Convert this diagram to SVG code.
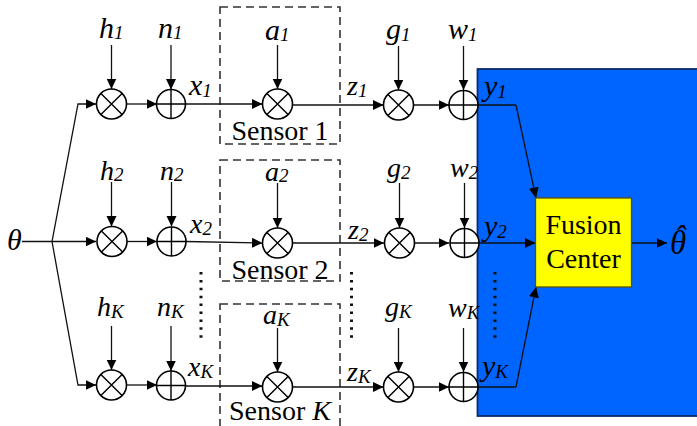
<svg xmlns="http://www.w3.org/2000/svg" width="697" height="426" viewBox="0 0 697 426" font-family="'Liberation Serif','Times New Roman',serif">
<style>
text{font-family:'Liberation Serif','Times New Roman',serif;fill:#000}
.v{font-style:italic;font-size:30px}
.r2{font-style:italic;font-size:28px}
.s{font-size:19px;font-style:italic}
.t{font-size:28px;text-anchor:middle}
.ln{fill:none;stroke:#111;stroke-width:1.3}
.in{fill:none;stroke:#111;stroke-width:1.3;marker-end:url(#a)}
.c{fill:#fff;stroke:#000;stroke-width:1.6}
.x{fill:none;stroke:#000;stroke-width:1.4}
.box{fill:none;stroke:#333;stroke-width:1.6;stroke-dasharray:8 5}
.dots{fill:none;stroke:#111;stroke-width:3;stroke-dasharray:2.5 5.4}
</style>
<defs>
<marker id="a" markerUnits="userSpaceOnUse" markerWidth="11" markerHeight="11" refX="10.5" refY="5" orient="auto"><path d="M0 0L10.5 5L0 10Z" fill="#000"/></marker>
<g id="mul"><circle class="c" r="15"/><path class="x" d="M-10.600-10.600L10.600 10.600M-10.600 10.600L10.600-10.600"/></g>
<g id="add"><circle class="c" r="14.500"/><path class="x" d="M-14.500 0H14.500M0-14.500V14.500"/></g>
</defs>
<rect id="fusion-bg" x="477.500" y="69" width="222" height="347" fill="#0064ff" stroke="#0a2a6a" stroke-width="1.800"/>
<g id="sensor-1"><rect class="box" x="220" y="7" width="120" height="137"/><text class="t" x="280" y="140">Sensor 1</text></g>
<g id="sensor-2"><rect class="box" x="220" y="160" width="120" height="121"/><text class="t" x="280" y="279">Sensor 2</text></g>
<g id="sensor-k"><rect class="box" x="220" y="304" width="120" height="130"/><text class="t" x="280" y="420">Sensor <tspan font-style="italic">K</tspan></text></g>
<g id="connectors">
<path class="in" d="M22 241.500H52L78 104H96"/><path class="in" d="M52 241.500H96"/><path class="in" d="M52 241.500L78 385H96"/>
<path class="in" d="M127 104H157"/><path class="in" d="M186 104H262.500"/><path class="in" d="M293 105H383.500"/><path class="in" d="M414 105H449"/><path class="ln" d="M478 105H516"/><path class="in" d="M516 105L536 198"/>
<path class="in" d="M127 241.500H157"/><path class="in" d="M186 241.500L262.500 243"/><path class="in" d="M293 243H384"/><path class="in" d="M415 243H449"/><path class="in" d="M478 243H535.500"/>
<path class="in" d="M127 385H157"/><path class="in" d="M186 386H262.500"/><path class="in" d="M293 387H383.500"/><path class="in" d="M414 387H449"/><path class="ln" d="M478 387H516"/><path class="in" d="M516 387L536 287"/>
<path class="in" d="M631.500 243H667"/>
<path class="in" d="M111.500 45V89"/><path class="in" d="M171 45V89.500"/><path class="in" d="M277.500 45V89"/><path class="in" d="M398.500 46V90"/><path class="in" d="M463.500 46V90"/>
<path class="in" d="M111.500 182V226.500"/><path class="in" d="M171.500 182V226.500"/><path class="in" d="M277.500 183V228"/><path class="in" d="M399.500 183V228"/><path class="in" d="M464.500 183V228"/>
<path class="in" d="M111.500 326V370"/><path class="in" d="M171 326V371"/><path class="in" d="M277.500 328V372"/><path class="in" d="M398.500 328V372"/><path class="in" d="M463.500 328V372"/>
</g>
<g id="mul-h1"><use href="#mul" x="111.500" y="104"/></g>
<g id="add-n1"><use href="#add" x="171" y="104"/></g>
<g id="mul-a1"><use href="#mul" x="277.500" y="104"/></g>
<g id="mul-g1"><use href="#mul" x="398.500" y="105"/></g>
<g id="add-w1"><use href="#add" x="463.500" y="105"/></g>
<g id="mul-h2"><use href="#mul" x="112" y="241.500"/></g>
<g id="add-n2"><use href="#add" x="171.500" y="241.500"/></g>
<g id="mul-a2"><use href="#mul" x="277.500" y="243"/></g>
<g id="mul-g2"><use href="#mul" x="399.500" y="243"/></g>
<g id="add-w2"><use href="#add" x="464.500" y="243"/></g>
<g id="mul-hk"><use href="#mul" x="111.500" y="385"/></g>
<g id="add-nk"><use href="#add" x="171" y="385.500"/></g>
<g id="mul-ak"><use href="#mul" x="277.500" y="387"/></g>
<g id="mul-gk"><use href="#mul" x="398.500" y="387"/></g>
<g id="add-wk"><use href="#add" x="463.500" y="387"/></g>
<g id="fusion-center"><rect x="535.500" y="198" width="96" height="89" fill="#ff0" stroke="#5a5200" stroke-width="1.300"/><text class="t" x="583.500" y="234">Fusion</text><text class="t" x="583.500" y="268">Center</text></g>
<g id="labels">
<text class="v" x="99" y="38">h<tspan class="s" dy="1">1</tspan></text>
<text class="v" x="158" y="38">n<tspan class="s" dy="1">1</tspan></text>
<text class="v" x="265" y="40">a<tspan class="s" dy="1">1</tspan></text>
<text class="v" x="386" y="39">g<tspan class="s" dy="2">1</tspan></text>
<text class="v" x="448" y="39">w<tspan class="s" dy="2">1</tspan></text>
<text class="r2" x="100" y="180">h<tspan class="s" dy="1">2</tspan></text>
<text class="r2" x="160" y="180">n<tspan class="s" dy="1">2</tspan></text>
<text class="r2" x="265" y="181">a<tspan class="s" dy="1">2</tspan></text>
<text class="r2" x="387" y="177">g<tspan class="s" dy="2">2</tspan></text>
<text class="r2" x="450" y="177">w<tspan class="s" dy="2">2</tspan></text>
<text class="r2" x="97" y="316">h<tspan class="s" dy="2">K</tspan></text>
<text class="r2" x="157" y="316">n<tspan class="s" dy="2">K</tspan></text>
<text class="r2" x="263" y="324">a<tspan class="s" dy="2">K</tspan></text>
<text class="r2" x="385" y="316">g<tspan class="s" dy="2">K</tspan></text>
<text class="r2" x="448" y="317">w<tspan class="s" dy="2">K</tspan></text>
<text class="v" x="189" y="95">x<tspan class="s" dy="2">1</tspan></text>
<text class="r2" x="190" y="233">x<tspan class="s" dy="2">2</tspan></text>
<text class="r2" x="188" y="376">x<tspan class="s" dy="2">K</tspan></text>
<text class="r2" x="347" y="95">z<tspan class="s" dy="2">1</tspan></text>
<text class="r2" x="348" y="239">z<tspan class="s" dy="2">2</tspan></text>
<text class="r2" x="347" y="381">z<tspan class="s" dy="2">K</tspan></text>
<text class="v" x="484" y="96">y<tspan class="s" dy="2">1</tspan></text>
<text class="v" x="484" y="236">y<tspan class="s" dy="2">2</tspan></text>
<text class="v" x="482" y="376">y<tspan class="s" dy="2">K</tspan></text>
<text class="v" x="7" y="250">θ</text>
<text class="v" x="670" y="254" style="font-size:33px">θ<tspan dx="-12" dy="-5">ˆ</tspan></text>
</g>
<path class="dots" d="M201 272V340"/><path class="dots" d="M351.500 272V340"/><path class="dots" d="M495 272V340"/>
</svg>
